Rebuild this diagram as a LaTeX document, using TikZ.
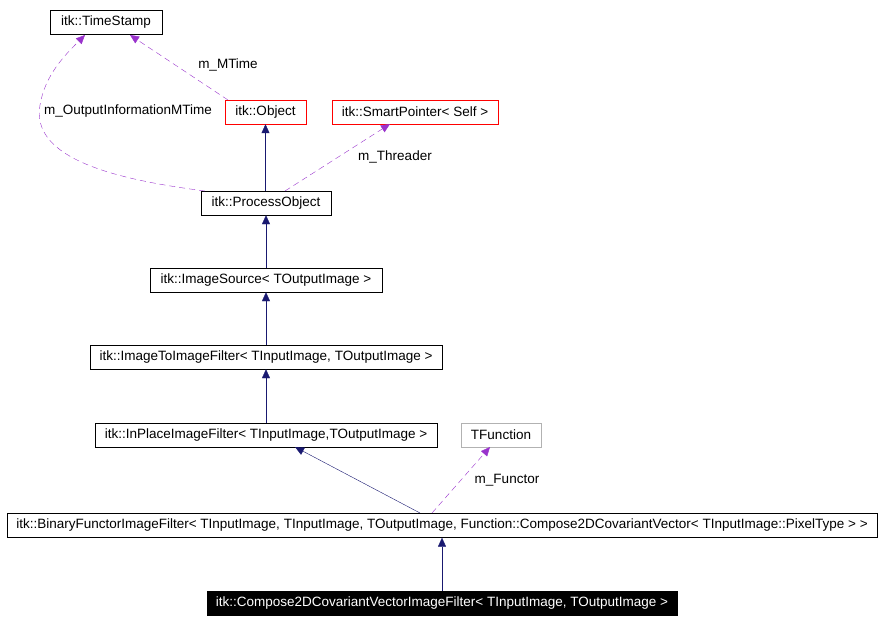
\documentclass[tikz,border=0pt]{standalone}
\usepackage{fontspec}
\setmainfont{Liberation Sans}
\usetikzlibrary{arrows.meta}
\begin{document}
\begin{tikzpicture}[x=1pt,y=-1pt,
  box/.style={draw=black,fill=white,inner sep=0pt,minimum height=24pt,font=\fontsize{13.5}{15}\selectfont,anchor=center},
  inh/.style={draw=navy,-{Triangle[length=9pt,width=8pt,fill=navy]}},
  use/.style={draw=violet,dash pattern=on 6pt off 4pt,-{Triangle[length=9pt,width=8pt,fill=violet]}},
  lab/.style={font=\fontsize{13.5}{15}\selectfont,fill=white,inner sep=1pt}]
\definecolor{navy}{RGB}{25,25,112}
\definecolor{violet}{RGB}{153,50,204}
\useasboundingbox (0,0) rectangle (884,623);
\node[box,minimum width=112pt] (ts) at (106,22) {itk::TimeStamp};
\node[box,minimum width=81pt,draw=red] (obj) at (265.5,112) {itk::Object};
\node[box,minimum width=166pt,draw=red] (sp) at (415,112) {itk::SmartPointer< Self >};
\node[box,minimum width=130pt] (po) at (266,203) {itk::ProcessObject};
\node[box,minimum width=232pt] (is) at (266,280) {itk::ImageSource< TOutputImage >};
\node[box,minimum width=352pt] (itif) at (266,357) {itk::ImageToImageFilter< TInputImage, TOutputImage >};
\node[box,minimum width=342pt] (ip) at (266,435) {itk::InPlaceImageFilter< TInputImage,TOutputImage >};
\node[box,minimum width=80pt,draw=gray!60] (tf) at (501,435) {TFunction};
\node[box,minimum width=870pt] (bf) at (442,525.5) {itk::BinaryFunctorImageFilter< TInputImage, TInputImage, TOutputImage, Function::Compose2DCovariantVector< TInputImage::PixelType > >};
\node[box,minimum width=470pt,fill=black,text=white] (cv) at (442,603) {itk::Compose2DCovariantVectorImageFilter< TInputImage, TOutputImage >};
\draw[inh] (po.north -| obj.south) -- (obj.south);
\draw[inh] (is.north) -- (po.south);
\draw[inh] (itif.north) -- (is.south);
\draw[inh] (ip.north) -- (itif.south);
\draw[inh] (420,513) -- (295,447);
\draw[inh] (cv.north) -- (bf.south);
\draw[use] (228,100) -- (130,35);
\node[lab] at (228,65) {m\_MTime};
\draw[use] (205,191) .. controls (120,180) and (30,160) .. (40,105) .. controls (45,75) and (65,55) .. (85,35);
\node[lab] at (128,111) {m\_OutputInformationMTime};
\draw[use] (285,191) -- (390,124);
\node[lab] at (395,157) {m\_Threader};
\draw[use] (432,513) -- (490,447);
\node[lab] at (507,480) {m\_Functor};
\end{tikzpicture}
\end{document}
